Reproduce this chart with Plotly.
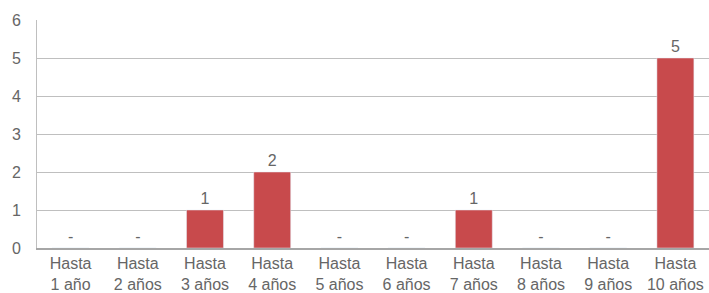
import plotly.graph_objects as go

categories = ["Hasta<br>1 año", "Hasta<br>2 años", "Hasta<br>3 años", "Hasta<br>4 años", "Hasta<br>5 años",
              "Hasta<br>6 años", "Hasta<br>7 años", "Hasta<br>8 años", "Hasta<br>9 años", "Hasta<br>10 años"]
values = [0, 0, 1, 2, 0, 0, 1, 0, 0, 5]
labels = [str(v) if v else "-" for v in values]
y_ticks = [0, 1, 2, 3, 4, 5, 6]

fig = go.Figure(go.Bar(
    x=categories, y=values, text=labels, textposition="outside",
    textfont=dict(size=16, color="#666666"), marker_color="#C84A4C",
    cliponaxis=False,
))
fig.update_layout(
    width=709, height=293, margin=dict(l=37, r=0, t=20, b=45, autoexpand=False),
    plot_bgcolor="white", paper_bgcolor="white", bargap=0.45,
    font=dict(family="Liberation Sans, Arial, sans-serif", size=16, color="#666666"),
    showlegend=False,
)
fig.update_xaxes(showgrid=False, tickfont=dict(size=16, color="#666666"), ticks="",
                 showline=True, linecolor="#A6A6A6", linewidth=2, automargin=False,
                 ticklabelstandoff=0)
fig.update_yaxes(range=[0, 6], tickvals=y_ticks, showgrid=True, gridcolor="#BFBFBF", gridwidth=1,
                 zeroline=False, showline=True, linecolor="#BFBFBF", linewidth=1, automargin=False,
                 tickfont=dict(size=16, color="#666666"), ticks="", ticklabelstandoff=12)
fig.write_html(
    "out.html",
    config={"displayModeBar": False},
    post_script="document.body.style.margin='0';document.documentElement.style.overflow='hidden';",
)
